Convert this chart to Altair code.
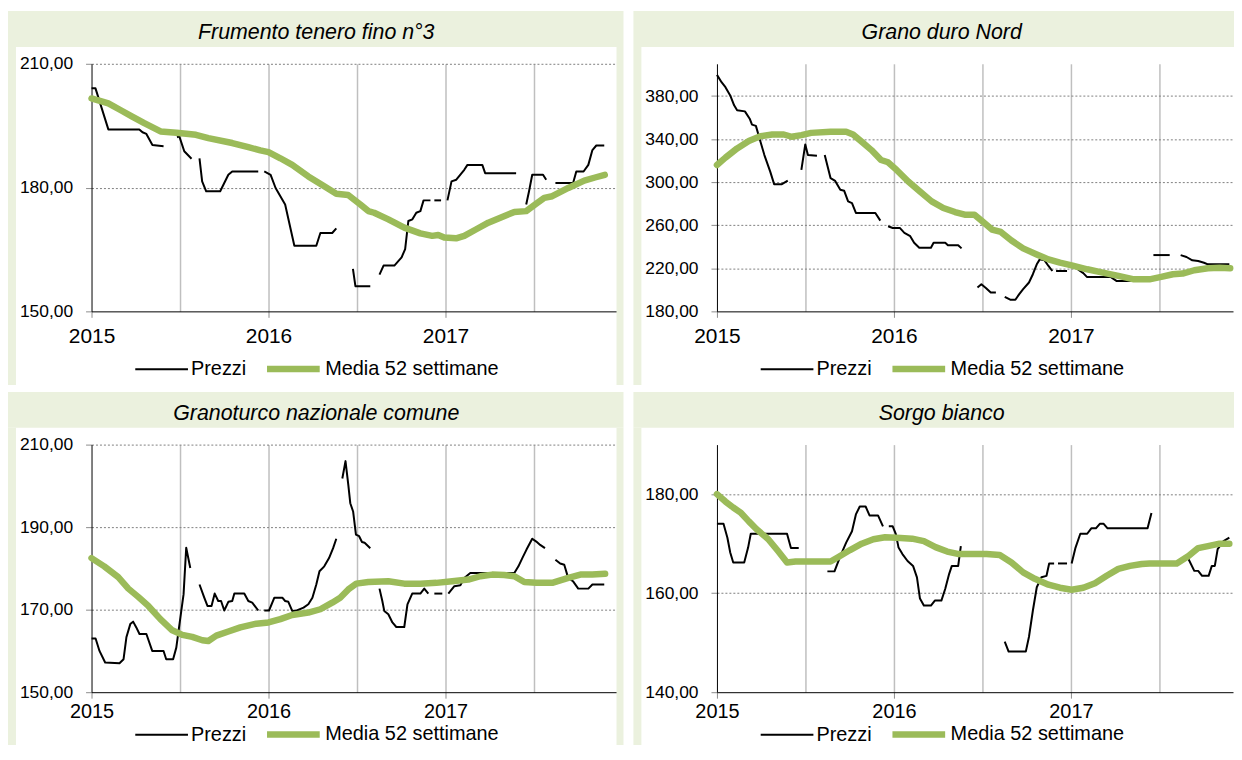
import altair as alt
import pandas as pd

BEIGE = "#EBF1DE"
GREEN = "#9BBB59"
FONT = "Liberation Sans"
SERIE = ["Prezzi", "Media 52 settimane"]

titoli = ["Frumento tenero fino n°3", "Grano duro Nord",
          "Granoturco nazionale comune", "Sorgo bianco"]
y_domini = [[150, 210], [180, 410], [150, 210], [140, 190]]
y_ticks = [[150, 180, 210], [180, 220, 260, 300, 340, 380],
           [150, 170, 190, 210], [140, 160, 180]]
x_ticks = [2015, 2015.5, 2016, 2016.5, 2017, 2017.5]

# (anno decimale, €/t) ; None = interruzione della serie
frumento_prezzi = [
    (2015.000, 204.1), (2015.022, 204.1), (2015.095, 194.1), (2015.270, 194.1), (2015.288, 193.4),
    (2015.310, 193.0), (2015.344, 190.3), (2015.407, 190.0), None,
    (2015.483, 192.2), (2015.496, 192.4), (2015.524, 188.8), (2015.565, 187.0), None,
    (2015.610, 187.1), (2015.625, 181.5), (2015.648, 179.1), (2015.727, 179.1), (2015.773, 183.1),
    (2015.795, 183.9), (2015.942, 183.9), None,
    (2015.976, 183.9), (2016.012, 183.1), (2016.040, 179.9), (2016.094, 175.9), (2016.146, 165.9),
    (2016.270, 165.9), (2016.293, 169.0), (2016.360, 169.0), (2016.383, 170.1), None,
    (2016.477, 160.3), (2016.491, 156.1), (2016.575, 156.1), None,
    (2016.627, 158.9), (2016.650, 161.1), (2016.711, 161.1), (2016.752, 163.1), (2016.772, 165.1),
    (2016.790, 171.9), (2016.813, 172.3), (2016.835, 173.9), (2016.858, 174.3), (2016.876, 176.9),
    (2016.915, 176.9), None,
    (2016.937, 176.9), (2016.975, 176.9), None,
    (2017.011, 176.9), (2017.034, 181.5), (2017.061, 181.9), (2017.106, 184.3), (2017.124, 185.5),
    (2017.208, 185.5), (2017.224, 183.5), (2017.399, 183.5), None,
    (2017.456, 175.9), (2017.472, 179.1), (2017.490, 183.1), (2017.551, 183.1), (2017.569, 181.9), None,
    (2017.621, 181.1), (2017.721, 181.1), (2017.739, 183.9), (2017.780, 183.9), (2017.807, 185.5),
    (2017.830, 189.1), (2017.852, 190.2), (2017.897, 190.2),
]
frumento_media = [
    (2015.000, 201.6), (2015.095, 200.4), (2015.163, 198.8), (2015.230, 197.2), (2015.298, 195.6),
    (2015.390, 193.6), (2015.480, 193.3), (2015.590, 192.8), (2015.660, 192.0), (2015.795, 190.8),
    (2015.886, 189.8), (2015.954, 189.0), (2016.000, 188.6), (2016.067, 187.1), (2016.134, 185.5),
    (2016.225, 182.7), (2016.315, 180.3), (2016.383, 178.5), (2016.450, 178.2), (2016.519, 175.9),
    (2016.564, 174.3), (2016.597, 173.9), (2016.677, 172.3), (2016.767, 170.3), (2016.858, 168.9),
    (2016.925, 168.3), (2016.959, 168.5), (2016.993, 167.9), (2017.060, 167.7), (2017.106, 168.3),
    (2017.174, 169.9), (2017.242, 171.5), (2017.310, 172.7), (2017.389, 174.1), (2017.456, 174.3),
    (2017.513, 176.1), (2017.558, 177.5), (2017.603, 177.9), (2017.694, 179.9), (2017.784, 181.7),
    (2017.850, 182.5), (2017.900, 183.1),
]

duro_prezzi = [
    (2015.000, 399.7), (2015.026, 392.9), (2015.048, 388.3), (2015.075, 380.6), (2015.097, 371.4),
    (2015.114, 366.8), (2015.158, 365.8), (2015.185, 359.0), (2015.198, 353.5), (2015.220, 352.3),
    (2015.246, 337.5), (2015.268, 325.2), (2015.301, 309.8), (2015.323, 298.2), (2015.367, 298.2),
    (2015.400, 301.5), None,
    (2015.477, 311.4), (2015.499, 335.1), (2015.514, 325.2), (2015.565, 324.6), None,
    (2015.609, 325.2), (2015.642, 303.7), (2015.668, 301.2), (2015.697, 292.9), (2015.719, 292.0),
    (2015.741, 282.2), (2015.763, 280.6), (2015.785, 271.4), (2015.895, 271.4), (2015.923, 264.3), None,
    (2015.967, 259.1), (2015.993, 257.5), (2016.033, 257.5), (2016.059, 252.9), (2016.092, 249.8),
    (2016.114, 243.7), (2016.143, 239.1), (2016.209, 239.1), (2016.224, 243.7), (2016.290, 243.7),
    (2016.305, 241.5), (2016.363, 241.5), (2016.382, 238.5), None,
    (2016.472, 202.2), (2016.494, 205.2), (2016.521, 201.5), (2016.547, 197.5), (2016.576, 197.5), None,
    (2016.626, 193.5), (2016.657, 190.8), (2016.686, 190.8), (2016.708, 196.0), (2016.730, 200.6),
    (2016.763, 206.8), (2016.785, 214.5), (2016.807, 223.7), (2016.824, 228.3), (2016.851, 227.4),
    (2016.873, 222.2), (2016.895, 217.5), None,
    (2016.916, 217.5), (2016.978, 217.5), None,
    (2017.040, 219.0), (2017.070, 215.5), (2017.090, 212.0), (2017.224, 212.0), (2017.257, 208.3),
    (2017.356, 208.3), (2017.420, 208.5), None,
    (2017.466, 232.3), (2017.558, 232.3), None,
    (2017.620, 232.3), (2017.653, 230.5), (2017.686, 227.4), (2017.719, 226.8), (2017.752, 225.2),
    (2017.774, 223.7), (2017.895, 223.7),
]
duro_media = [
    (2015.000, 316.0), (2015.048, 322.8), (2015.114, 331.4), (2015.180, 338.2), (2015.246, 342.8),
    (2015.312, 344.3), (2015.378, 344.3), (2015.422, 342.2), (2015.477, 343.7), (2015.532, 345.8),
    (2015.642, 346.8), (2015.730, 346.8), (2015.769, 344.3), (2015.818, 337.5), (2015.873, 329.8),
    (2015.927, 320.6), (2015.967, 318.5), (2016.015, 311.4), (2016.081, 300.6), (2016.147, 291.4),
    (2016.213, 282.2), (2016.279, 276.0), (2016.345, 272.3), (2016.400, 269.8), (2016.455, 269.8),
    (2016.499, 263.7), (2016.554, 256.0), (2016.604, 253.8), (2016.664, 245.8), (2016.730, 238.5),
    (2016.807, 232.9), (2016.873, 228.3), (2016.938, 225.2), (2017.004, 222.8), (2017.092, 219.1),
    (2017.180, 216.0), (2017.268, 212.9), (2017.356, 209.8), (2017.444, 209.8), (2017.510, 212.0),
    (2017.576, 214.5), (2017.631, 215.1), (2017.697, 218.2), (2017.774, 220.0), (2017.840, 220.6),
    (2017.900, 220.0),
]

mais_prezzi = [
    (2015.000, 163.0), (2015.023, 163.0), (2015.045, 160.0), (2015.077, 157.2), (2015.158, 157.0),
    (2015.181, 158.0), (2015.197, 163.3), (2015.219, 166.5), (2015.235, 167.1), (2015.253, 165.7),
    (2015.271, 164.1), (2015.310, 164.1), (2015.343, 160.0), (2015.407, 160.0), (2015.422, 158.0),
    (2015.461, 158.0), (2015.479, 160.8), (2015.502, 168.1), (2015.520, 173.7), (2015.535, 185.0),
    (2015.558, 180.1), None,
    (2015.610, 176.1), (2015.637, 172.9), (2015.655, 170.9), (2015.678, 170.9), (2015.696, 173.9),
    (2015.716, 172.1), (2015.732, 172.1), (2015.750, 169.8), (2015.773, 171.9), (2015.795, 172.1),
    (2015.807, 173.9), (2015.863, 173.9), (2015.886, 172.1), (2015.908, 171.7), (2015.942, 169.8), None,
    (2015.976, 169.8), (2016.003, 169.8), (2016.033, 172.9), (2016.078, 172.9), (2016.094, 172.1),
    (2016.112, 171.9), (2016.134, 169.7), (2016.160, 169.8), (2016.198, 170.5), (2016.225, 171.3),
    (2016.248, 172.9), (2016.270, 176.1), (2016.288, 179.3), (2016.315, 180.5), (2016.342, 182.5),
    (2016.365, 184.9), (2016.383, 187.2), None,
    (2016.417, 201.8), (2016.435, 206.0), (2016.451, 200.2), (2016.462, 195.8), (2016.478, 193.8),
    (2016.494, 188.2), (2016.512, 187.8), (2016.528, 186.4), (2016.543, 186.2), (2016.575, 184.9), None,
    (2016.627, 175.1), (2016.643, 172.1), (2016.654, 169.7), (2016.677, 168.9), (2016.700, 166.9),
    (2016.722, 165.8), (2016.767, 165.8), (2016.785, 171.3), (2016.812, 173.9), (2016.858, 173.9),
    (2016.880, 175.1), (2016.903, 173.9), None,
    (2016.937, 173.9), (2016.982, 173.9), None,
    (2017.016, 173.9), (2017.050, 175.7), (2017.084, 175.9), (2017.106, 177.7), (2017.140, 178.9),
    (2017.389, 178.9), (2017.412, 180.5), (2017.434, 182.5), (2017.457, 184.5), (2017.490, 187.2),
    (2017.513, 186.5), (2017.535, 185.7), (2017.562, 184.9), None,
    (2017.621, 182.1), (2017.648, 181.2), (2017.671, 180.9), (2017.693, 177.7), (2017.720, 176.9),
    (2017.750, 175.1), (2017.807, 175.1), (2017.830, 176.1), (2017.897, 176.1),
]
mais_media = [
    (2015.000, 182.5), (2015.072, 180.5), (2015.151, 177.9), (2015.208, 175.1), (2015.264, 173.1),
    (2015.321, 170.9), (2015.389, 167.7), (2015.456, 165.0), (2015.513, 163.9), (2015.569, 163.4),
    (2015.626, 162.6), (2015.660, 162.4), (2015.705, 163.7), (2015.773, 164.7), (2015.841, 165.7),
    (2015.931, 166.6), (2016.000, 166.9), (2016.067, 167.7), (2016.134, 168.7), (2016.225, 169.3),
    (2016.293, 170.1), (2016.360, 171.7), (2016.405, 172.9), (2016.451, 174.9), (2016.496, 176.3),
    (2016.564, 176.7), (2016.677, 176.9), (2016.767, 176.3), (2016.858, 176.3), (2016.948, 176.5),
    (2017.038, 176.9), (2017.129, 177.3), (2017.197, 178.1), (2017.264, 178.5), (2017.332, 178.4),
    (2017.389, 178.1), (2017.445, 176.7), (2017.513, 176.5), (2017.603, 176.5), (2017.694, 177.7),
    (2017.762, 178.5), (2017.829, 178.5), (2017.902, 178.7),
]

sorgo_prezzi = [
    (2015.000, 174.0), (2015.037, 174.0), (2015.059, 171.2), (2015.075, 168.2), (2015.092, 166.2),
    (2015.154, 166.2), (2015.176, 169.2), (2015.191, 172.0), (2015.396, 172.0), (2015.418, 169.1),
    (2015.462, 169.1), None,
    (2015.624, 164.4), (2015.664, 164.4), (2015.697, 167.5), (2015.730, 170.2), (2015.763, 172.5),
    (2015.785, 175.9), (2015.807, 177.5), (2015.840, 177.5), (2015.862, 175.7), (2015.910, 175.7),
    (2015.938, 173.5), None,
    (2015.971, 173.5), (2015.993, 173.5), (2016.011, 171.9), (2016.026, 169.2), (2016.048, 167.9),
    (2016.077, 166.5), (2016.108, 165.5), (2016.130, 163.2), (2016.147, 158.9), (2016.169, 157.5),
    (2016.209, 157.5), (2016.231, 158.5), (2016.268, 158.5), (2016.290, 160.9), (2016.312, 163.9),
    (2016.327, 165.5), (2016.363, 165.5), (2016.378, 169.5), None,
    (2016.626, 150.2), (2016.648, 148.2), (2016.745, 148.2), (2016.763, 151.2), (2016.785, 156.5),
    (2016.807, 161.2), (2016.833, 163.2), (2016.862, 163.5), (2016.877, 166.0), (2016.905, 166.0), None,
    (2016.927, 166.0), (2016.978, 166.0), None,
    (2017.004, 166.0), (2017.026, 169.2), (2017.053, 172.0), (2017.092, 172.0), (2017.115, 173.1),
    (2017.141, 173.1), (2017.163, 174.0), (2017.185, 174.0), (2017.207, 173.1), (2017.433, 173.1),
    (2017.455, 176.2), None,
    (2017.653, 167.7), (2017.697, 164.5), (2017.719, 164.5), (2017.741, 163.5), (2017.778, 163.5),
    (2017.796, 165.5), (2017.813, 165.5), (2017.829, 168.9), (2017.862, 170.5), (2017.895, 171.2),
]
sorgo_media = [
    (2015.000, 180.0), (2015.048, 178.5), (2015.092, 177.3), (2015.136, 176.2), (2015.180, 174.5),
    (2015.224, 172.9), (2015.290, 170.9), (2015.345, 168.5), (2015.396, 166.2), (2015.444, 166.4),
    (2015.532, 166.4), (2015.642, 166.4), (2015.686, 167.3), (2015.752, 168.7), (2015.818, 170.0),
    (2015.884, 170.9), (2015.950, 171.3), (2016.015, 171.2), (2016.103, 171.0), (2016.169, 170.5),
    (2016.235, 169.3), (2016.301, 168.4), (2016.367, 167.9), (2016.433, 167.9), (2016.523, 167.9),
    (2016.598, 167.7), (2016.664, 166.2), (2016.730, 164.2), (2016.796, 162.9), (2016.873, 161.7),
    (2016.938, 161.1), (2017.004, 160.7), (2017.070, 161.1), (2017.136, 162.0), (2017.202, 163.5),
    (2017.268, 164.9), (2017.334, 165.5), (2017.400, 165.9), (2017.444, 166.0), (2017.532, 166.0),
    (2017.598, 166.0), (2017.664, 167.5), (2017.719, 169.1), (2017.774, 169.5), (2017.840, 170.0),
    (2017.895, 170.0),
]


def to_df(prezzi, media):
    rows, seg = [], 0
    for p in prezzi:
        if p is None:
            seg += 1
            continue
        rows.append({"serie": "Prezzi", "seg": f"p{seg}", "t": p[0], "v": p[1]})
    for t, v in media:
        rows.append({"serie": "Media 52 settimane", "seg": "m", "t": t, "v": v})
    return pd.DataFrame(rows)


ONE = pd.DataFrame({"k": [0]})


def pannello(titolo, df, ydom, yticks, width, left_col, bottom):
    height = 249
    xmax = 2015 + width / 178.0
    x_enc = alt.X(
        "t:Q",
        scale=alt.Scale(domain=[2015, xmax], nice=False, zero=False),
        axis=alt.Axis(
            values=x_ticks, title=None,
            labelExpr="datum.value % 1 == 0 ? format(datum.value, 'd') : ''",
            labelFont=FONT, labelFontSize=(20 if bottom else 21), labelColor="black",
            labelPadding=(3 if bottom else 8),
            labelFlush=False, labelOverlap=False,
            grid=True, gridColor="#BFBFBF", gridWidth=1.5,
            gridOpacity={"condition": {"test": "datum.value == 2015", "value": 0}, "value": 1},
            ticks=True, tickSize=6, tickColor="#8C8C8C",
            tickOpacity={"condition": {"test": "datum.value % 1 == 0", "value": 1}, "value": 0},
            domainColor="black", domainWidth=1,
        ),
    )
    y_enc = alt.Y(
        "v:Q",
        scale=alt.Scale(domain=ydom, nice=False, zero=False),
        axis=alt.Axis(
            values=yticks, title=None,
            labelExpr="replace(format(datum.value, '.2f'), '.', ',')",
            labelFont=FONT, labelFontSize=17.5, labelColor="black", labelPadding=13,
            grid=True, gridColor="#7F7F7F", gridDash=[2, 2], gridWidth=1,
            gridOpacity={"condition": {"test": f"datum.value == {ydom[0]}", "value": 0}, "value": 1},
            tickSize=6, tickColor="#8C8C8C", domainColor="black", domainWidth=1,
        ),
    )
    legend = alt.Legend(
        title=None, orient="none", legendX=43, legendY=(261.5 if bottom else 277),
        direction="horizontal",
        symbolType="stroke", symbolSize=2809, labelFont=FONT, labelFontSize=20,
        labelColor="black", labelOffset=2, columnPadding=7, labelLimit=400,
    )
    color = alt.Color("serie:N", scale=alt.Scale(domain=SERIE, range=["#000000", GREEN]), legend=legend)
    sw = alt.StrokeWidth("serie:N", scale=alt.Scale(domain=SERIE, range=[2, 6.5]), legend=legend)

    base = alt.Chart(df)
    prezzi = base.transform_filter(alt.datum.serie == "Prezzi").mark_line(strokeJoin="round").encode(
        x=x_enc, y=y_enc, color=color, strokeWidth=sw, detail="seg:N")
    media = base.transform_filter(alt.datum.serie == "Media 52 settimane").mark_line(
        strokeCap="round", strokeJoin="round").encode(x=x_enc, y=y_enc, color=color, strokeWidth=sw)

    bot = 330 if bottom else 323
    right = width + 7 if left_col else width + 1
    band = alt.Chart(ONE).mark_rect(color=BEIGE).encode(
        x=alt.value(-84), x2=alt.value(right), y=alt.value(-53), y2=alt.value(-17))
    lstrip = alt.Chart(ONE).mark_rect(color=BEIGE).encode(
        x=alt.value(-84), x2=alt.value(-76), y=alt.value(-17), y2=alt.value(bot))
    layers = [band, lstrip]
    if left_col:
        rstrip = alt.Chart(ONE).mark_rect(color=BEIGE).encode(
            x=alt.value(width), x2=alt.value(width + 7), y=alt.value(-17), y2=alt.value(bot))
        layers.append(rstrip)
    title = alt.Chart(ONE).mark_text(
        text=titolo, font=FONT, fontSize=21.5, fontStyle="italic", align="center",
        baseline="middle", color="black").encode(x=alt.value(226), y=alt.value(-31))
    layers += [title, prezzi, media]
    return alt.layer(*layers).properties(width=width, height=height)


dati = [to_df(frumento_prezzi, frumento_media), to_df(duro_prezzi, duro_media),
        to_df(mais_prezzi, mais_media), to_df(sorgo_prezzi, sorgo_media)]

p1 = pannello(titoli[0], dati[0], y_domini[0], y_ticks[0], 528, True, False)
p2 = pannello(titoli[1], dati[1], y_domini[1], y_ticks[1], 519, False, False)
p3 = pannello(titoli[2], dati[2], y_domini[2], y_ticks[2], 528, True, True)
p4 = pannello(titoli[3], dati[3], y_domini[3], y_ticks[3], 519, False, True)

res = dict(color="independent", strokeWidth="independent")
row1 = alt.hconcat(p1, p2, spacing=10).resolve_scale(**res).resolve_legend(**res)
row2 = alt.hconcat(p3, p4, spacing=10).resolve_scale(**res).resolve_legend(**res)
chart = (
    alt.vconcat(row1, row2, spacing=7)
    .resolve_scale(**res).resolve_legend(**res)
    .properties(padding={"left": 0, "top": 1, "right": 0, "bottom": -30}, background="white")
    .configure_view(stroke=None)
)
chart.save("out.html", embed_options={"renderer": "svg", "actions": False})
